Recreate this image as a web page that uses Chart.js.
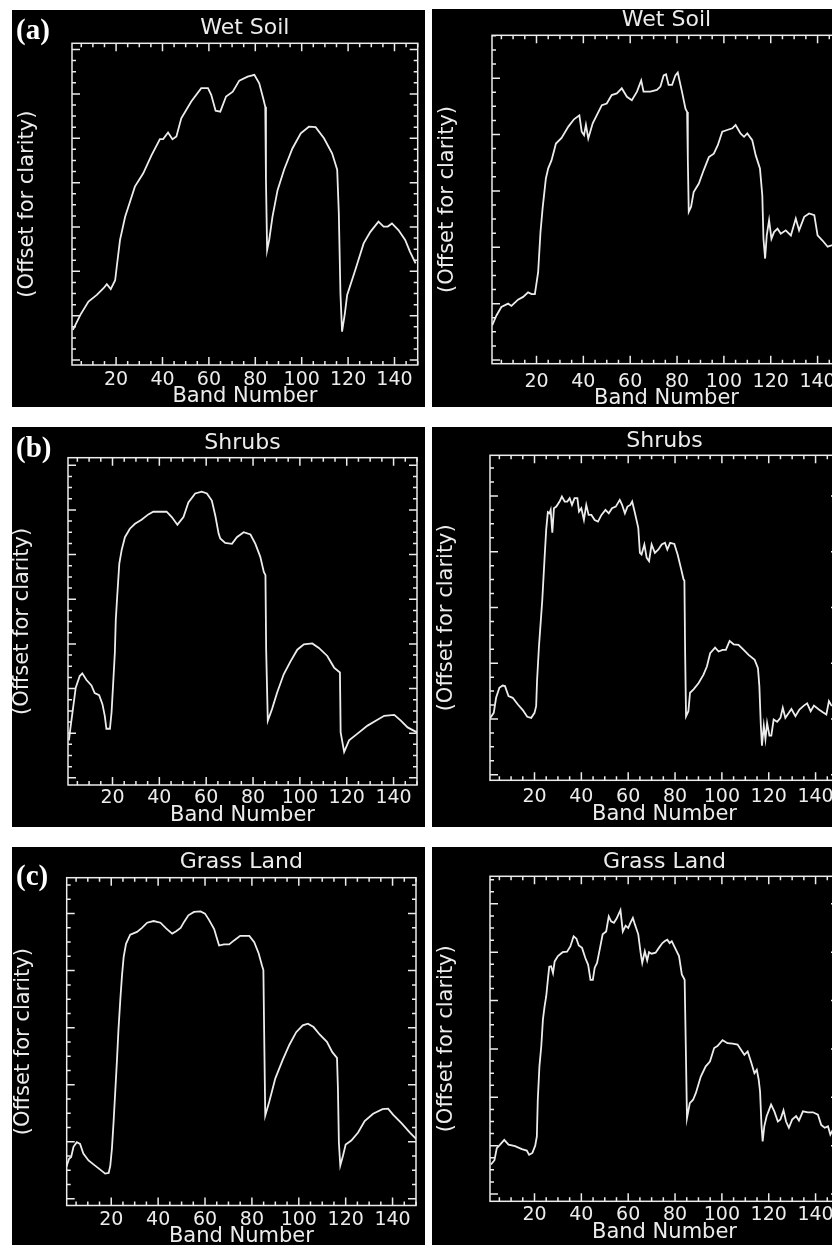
<!DOCTYPE html>
<html>
<head>
<meta charset="utf-8">
<title>Band profiles</title>
<script src="https://cdn.jsdelivr.net/npm/chart.js@4.4.1/dist/chart.umd.min.js"></script>
<style>
  html, body { margin: 0; padding: 0; background: #fff; overflow: hidden; }
  body { width: 832px; height: 1245px; position: relative; }
  canvas { position: absolute; background: #000; }
  .tag { position: absolute; left: 16px; z-index: 2; color: #fff; line-height: 1;
         font: bold 29px "Liberation Serif", "Times New Roman", serif; }
</style>
</head>
<body>
<div class="tag" style="top:13px">(a)</div>
<div class="tag" style="top:431px">(b)</div>
<div class="tag" style="top:859px">(c)</div>
<script>
const INK = '#ececec';
const FONT = '"DejaVu Sans", sans-serif';

// band axis
const BAND_MIN = 1;
const BAND_MAX = 150;
const BAND_LABELS = [20, 40, 60, 80, 100, 120, 140];
const BAND_MINOR_STEP = 5;
const BAND_MAJOR_STEP = 20;
// offset axis has no labels, only tick marks
const OFFSET_MINOR_STEP = 2.5;
const OFFSET_MAJOR_STEP = 10;

// Wet soil
const wetSoilLeftBand = [1.4, 4.6, 8.1, 11.7, 14.6, 16, 17.7, 19.6, 20.3, 21.7, 23.9, 26, 28.1, 31.7, 35.3, 38.9, 40.3, 42.4, 44.3, 46, 48.1, 52.4, 56.7, 59.6, 61, 62.9, 64.9, 67.4, 70.3, 73.1, 76.7, 79.6, 81.7, 83.4, 84.3, 84.6, 85.1, 86, 87.4, 89.6, 92.4, 96, 99.6, 103.1, 106, 109.6, 113.1, 115.3, 116, 116.7, 117.4, 118.6, 119.6, 123.1, 126.7, 129.6, 133.1, 135.3, 137.1, 138.9, 141.7, 144.6, 146.7, 149.1];
const wetSoilLeftValue = [6.8, 10.2, 13.2, 14.7, 16.2, 17.1, 16, 18, 21.1, 27.1, 32.3, 35.7, 39.1, 42.1, 46.2, 49.8, 49.8, 51.3, 49.8, 50.4, 54.5, 58.3, 61.3, 61.3, 59.8, 56.2, 56, 59.4, 60.5, 63, 63.9, 64.3, 62.4, 59, 57.1, 40.6, 24.8, 27.1, 32.3, 38.3, 42.9, 47.7, 51.1, 52.6, 52.5, 50, 46.6, 42.9, 33.1, 15, 6.4, 10.5, 14.7, 20.3, 26.3, 28.9, 31.2, 30.1, 30.1, 30.8, 29.3, 27.1, 24.4, 21.8];

const wetSoilRightBand = [1.1, 2.9, 5, 7.9, 9.3, 12.1, 14.3, 16.4, 17.9, 19.3, 20.7, 21.7, 22.6, 24, 25, 26.4, 28.3, 30.7, 33.6, 36, 38.3, 39.3, 40.3, 41.1, 42.1, 44, 45.7, 47.9, 50, 52.1, 54.3, 56.4, 58.6, 60.7, 62.9, 64.7, 65.7, 68.6, 71.4, 72.9, 74.3, 75.3, 76.4, 77.9, 79.3, 80.3, 82.1, 83.6, 84.3, 84.6, 85, 86, 87.1, 89.3, 91.4, 93.6, 95.7, 97.4, 99.3, 101.4, 103.6, 105, 107.1, 108.6, 110, 112.1, 113.6, 115.4, 116.4, 116.9, 117.6, 118.3, 119.3, 120.3, 121.4, 122.9, 124.3, 126.4, 128.6, 130.7, 132.1, 134.3, 136.4, 138.6, 140, 142.1, 144.3, 146.4, 148.5];
const wetSoilRightValue = [6.2, 7.9, 9.4, 10, 9.6, 10.7, 11.2, 12, 11.7, 11.7, 15.6, 22.7, 26.9, 32.2, 34, 35.4, 38.4, 39.4, 41.4, 42.7, 43.4, 40.5, 39.9, 41.7, 39.3, 42, 43.4, 45.2, 45.5, 47, 47.3, 48.2, 46.7, 46.1, 47.6, 49.6, 47.6, 47.6, 47.9, 48.5, 50.5, 50.7, 48.8, 48.8, 50.5, 51, 47.6, 44.6, 44, 35.7, 26.3, 27.2, 29.8, 31.3, 33.7, 36, 36.6, 38.1, 40.5, 40.8, 41.1, 41.7, 40.2, 39.6, 40.2, 39, 36.3, 34, 29.2, 21.5, 18, 22.1, 24.8, 21.5, 22.7, 23.3, 22.4, 23, 22.1, 25.1, 23, 25.4, 26, 25.7, 22.1, 21.2, 20.1, 20.4, 21];

// Shrubs
const shrubsLeftBand = [1.4, 2, 3.1, 4.3, 6, 7.1, 8.9, 11, 12.4, 14.3, 15.7, 16.7, 17.4, 18.9, 19.6, 20.3, 21, 21.4, 22, 22.9, 23.9, 25.3, 27.4, 29.6, 32.4, 35.3, 37.4, 43.1, 45.3, 47.7, 50.3, 52.4, 55.3, 58.1, 60.3, 62.4, 63.9, 65.3, 66, 68.1, 71, 73.1, 76, 78.9, 81, 83.1, 84.6, 85.3, 85.6, 86.3, 88.1, 90.3, 93.1, 96, 98.9, 101.7, 105.3, 108.1, 111.7, 114.6, 117.1, 117.4, 118.9, 121, 124.6, 128.9, 132.4, 136, 140.3, 143.1, 146, 150.3];
const shrubsLeftValue = [8.4, 11, 15.4, 20.2, 22.8, 23.4, 21.9, 20.7, 19, 18.5, 16.5, 13.9, 11, 11, 14.7, 21.3, 28, 35.4, 40.6, 48, 51, 53.9, 55.8, 56.9, 57.8, 59, 59.6, 59.6, 58.4, 56.7, 58.4, 61.7, 63.7, 64.1, 63.7, 62.1, 58.7, 54.7, 53.6, 52.6, 52.4, 53.9, 55, 54.5, 52.4, 49.5, 46.1, 45.4, 28.7, 12.8, 15.4, 19.1, 23.2, 26.1, 28.7, 29.9, 30.1, 29.1, 27.3, 24.7, 23.6, 10.2, 5.8, 8.4, 9.9, 11.7, 12.8, 13.9, 14.1, 12.8, 11.3, 10.1];

const shrubsRightBand = [1.1, 2.6, 3.6, 5, 6.4, 7.4, 8.9, 10.7, 12.9, 15, 16.9, 18.6, 20, 20.7, 21.1, 21.9, 22.6, 23.3, 24.3, 25, 25.7, 26.4, 26.9, 27.6, 28.3, 29.3, 30.7, 31.7, 32.9, 34, 35, 36, 37.1, 38.3, 39, 40, 41.1, 42.1, 43.1, 44.3, 45.7, 47.1, 48.6, 50.3, 51.7, 53.1, 54.7, 56.4, 57.4, 58.6, 59.7, 60.9, 61.7, 62.9, 64.3, 65, 65.7, 66.9, 67.9, 68.9, 70, 71.4, 72.9, 74.3, 75.7, 76.7, 77.9, 79.7, 81.1, 82.6, 83.6, 84, 84.3, 84.7, 85.7, 86.4, 87.9, 90, 92.1, 93.6, 95, 97.1, 98.6, 100.3, 101.7, 103.3, 105, 107.1, 109.3, 111.4, 114, 115.4, 116, 116.6, 117.1, 117.9, 118.6, 119.3, 120.3, 121.1, 122.1, 123.6, 125, 126, 127.1, 128.6, 129.7, 131.4, 133.1, 135, 136.4, 137.9, 139.3, 141.4, 143.1, 144.6, 145.7, 146.9];
const shrubsRightValue = [10.2, 11.1, 13.8, 15.6, 16, 15.9, 14.1, 13.8, 12.6, 11.6, 10.4, 10.2, 11.1, 12.3, 17, 23, 27.1, 31.2, 38.9, 44, 47.1, 46.9, 47.5, 43.4, 47.8, 48.1, 49, 49.9, 49, 49, 49.6, 48.4, 49.6, 49.6, 47.2, 47.8, 45.7, 48.4, 46.6, 46.6, 45.7, 45.4, 46.6, 47.5, 46.9, 47.8, 48.1, 49.3, 48.4, 46.9, 48.1, 48.4, 49, 46.9, 44.3, 39.8, 39.5, 41.3, 38.9, 38.3, 41.3, 39.8, 40.4, 41.3, 41.6, 40.4, 41.6, 41.4, 39.5, 36.9, 35.1, 34.8, 22.1, 10.5, 11.4, 14.7, 15.3, 16.4, 17.9, 19.4, 21.8, 22.8, 22.1, 22.4, 22.4, 24, 23.4, 23.3, 22.4, 21.5, 20.6, 19.1, 15.9, 9.1, 5.2, 8.8, 6.4, 9.3, 7, 7, 9.9, 9.5, 10.2, 12, 10.2, 11.1, 11.8, 10.5, 11.7, 12.4, 12.8, 11.4, 12.4, 11.7, 11.2, 10.8, 13.2, 12.3];

// Grass land
const grassLeftBand = [0.9, 2, 2.9, 3.9, 5.3, 6.7, 8.1, 10.3, 13.1, 15.3, 17.4, 18.9, 19.6, 20.3, 21, 21.7, 22.4, 23.1, 23.9, 24.6, 25.3, 26.3, 28.1, 31, 33.1, 35.3, 38.1, 41, 43.4, 46, 47.7, 49.6, 51, 52.9, 55.3, 58.1, 60, 61.7, 63.9, 64.9, 66, 68.1, 70.3, 72.4, 75, 78.9, 81, 82.9, 84.3, 84.9, 85.3, 85.7, 87.4, 90, 93.1, 96, 98.9, 101.7, 103.9, 106.3, 108.9, 112, 114.3, 116.3, 116.7, 117.1, 117.7, 118.9, 120, 122.4, 125.3, 128.1, 131.7, 135.7, 138.1, 140.3, 143.9, 147.4, 150.3];
const grassLeftValue = [5.6, 7, 7.3, 9.1, 9.9, 9.6, 7.9, 6.7, 5.8, 5.1, 4.4, 4.5, 5.8, 8.8, 13.5, 18.7, 24, 29.8, 35.1, 39.2, 42.4, 44.7, 46.3, 46.8, 47.5, 48.4, 48.7, 48.4, 47.4, 46.5, 46.9, 47.5, 48.5, 49.7, 50.3, 50.4, 50, 48.9, 47.3, 45.9, 44.4, 44.6, 44.6, 45.3, 46.1, 46.1, 45, 43, 40.9, 40.1, 26.9, 14.6, 17, 21.1, 24.3, 27, 29.2, 30.4, 30.7, 30.1, 28.8, 27.5, 25.7, 24.7, 19.3, 9.9, 5.8, 7.6, 9.5, 10.2, 11.6, 13.6, 14.9, 15.7, 15.8, 14.7, 13.2, 11.6, 10.4];

const grassRightBand = [1.4, 2.9, 3.9, 5.3, 7.1, 8.9, 11.7, 14.6, 16.7, 17.7, 19.1, 20.3, 21, 21.4, 22.1, 22.9, 23.6, 24.3, 25, 25.7, 26.3, 27.1, 27.9, 28.6, 30, 32, 33.9, 35.3, 36.7, 37.9, 38.9, 40.3, 41.7, 42.9, 43.9, 44.9, 45.7, 46.7, 48.1, 49.1, 50.6, 51.7, 52.7, 53.9, 55, 56.7, 57.7, 58.9, 60, 61, 62, 62.9, 64.3, 65.3, 66, 67.1, 68.1, 68.9, 70, 71.7, 73.1, 74.6, 75.7, 76.7, 77.7, 78.6, 80.3, 81.7, 82.9, 84.1, 84.6, 85.1, 86.3, 87.7, 88.9, 91, 93.1, 94.9, 96.7, 98.1, 100.3, 102.4, 104.6, 106.7, 108.1, 109.6, 111, 112.4, 113.9, 114.9, 115.7, 116.3, 116.9, 117.4, 118.1, 119.1, 121, 122.4, 123.9, 125, 126.3, 127.4, 128.6, 130, 131.7, 132.9, 134.6, 136.7, 138.9, 141, 142.4, 143.9, 145.3, 146.3, 147.4];
const grassRightValue = [6.1, 7, 9.5, 10.2, 11.2, 10.2, 9.9, 9.3, 9, 8.1, 8.5, 10, 11.9, 19.5, 26.4, 30.6, 36.1, 38.8, 40.9, 44.3, 47, 47.1, 45.7, 48.1, 49.2, 50, 50.1, 51.2, 53.3, 52.8, 51.4, 50.9, 48.8, 47.4, 44.3, 44.3, 46.8, 47.8, 51.2, 53.7, 54.3, 57.4, 56.4, 56.1, 56.9, 58.7, 54.3, 55.5, 55, 56.1, 57.1, 55.7, 53.7, 49.9, 47.8, 50.2, 48.3, 50, 49.7, 49.9, 50.9, 51.9, 52.3, 52.6, 51.9, 52.3, 50.6, 49.2, 45.4, 44.3, 30.2, 15.7, 18.8, 19.5, 20.9, 24.3, 26.4, 27.4, 30.2, 30.6, 31.8, 31.2, 31.1, 30.9, 29.9, 28.8, 29.5, 27.4, 25, 25.7, 23.7, 21.2, 14.3, 10.9, 14, 16.1, 18.5, 17.1, 15, 15.4, 17.3, 15, 13.7, 15.4, 16.1, 15.2, 17.1, 16.9, 16.9, 16.4, 14.3, 13.7, 14, 12.3, 13.3];

// canvas: [left, top, width, height]; box: plot frame [left, top, right, bottom] in page px
const panels = [
  { title: 'Wet Soil', bands: wetSoilLeftBand, values: wetSoilLeftValue, yMin: -1.1, yMax: 71.4,
    canvas: [12, 10, 413, 397], box: [72, 43.3, 417.7, 365], titleY: 28, tickY: 380.5, bandTitleY: 397, offsetTitleX: 28 },
  { title: 'Wet Soil', bands: wetSoilRightBand, values: wetSoilRightValue, yMin: -0.65, yMax: 57.6,
    canvas: [432, 9, 413, 398], box: [492, 35.3, 841, 363.7], titleY: 20.3, tickY: 381.7, bandTitleY: 398.5, offsetTitleX: 448 },
  { title: 'Shrubs', bands: shrubsLeftBand, values: shrubsLeftValue, yMin: -1.6, yMax: 71.7,
    canvas: [12, 427, 413, 400], box: [68, 457.7, 417, 785], titleY: 443, tickY: 798.5, bandTitleY: 816, offsetTitleX: 23 },
  { title: 'Shrubs', bands: shrubsRightBand, values: shrubsRightValue, yMin: -1, yMax: 57.3,
    canvas: [432, 427, 413, 400], box: [490, 455.3, 839, 780.3], titleY: 441, tickY: 797, bandTitleY: 815, offsetTitleX: 447 },
  { title: 'Grass Land', bands: grassLeftBand, values: grassLeftValue, yMin: -1.2, yMax: 56.3,
    canvas: [12, 847, 413, 410], box: [66.7, 877.7, 416, 1205.5], titleY: 862, tickY: 1220, bandTitleY: 1237, offsetTitleX: 24 },
  { title: 'Grass Land', bands: grassRightBand, values: grassRightValue, yMin: -1.5, yMax: 65.7,
    canvas: [432, 847, 413, 410], box: [490, 876.3, 839, 1201.3], titleY: 862, tickY: 1215, bandTitleY: 1233, offsetTitleX: 447 },
];

const TITLE_SIZE = 22;
const TICK_SIZE = 19;
const BAND_TITLE_SIZE = 21;
const OFFSET_TITLE_SIZE = 21;
const MAJOR_LEN = 8;
const MINOR_LEN = 4;

// frame with inward-pointing ticks on all four sides
const frameTicks = {
    id: 'frameTicks',
    afterDatasetsDraw(chart) {
        const { ctx, chartArea: a, scales: { x, y } } = chart;
        ctx.save();
        ctx.strokeStyle = INK;
        ctx.lineWidth = 1.5;
        ctx.beginPath();
        for (let v = Math.ceil(x.min / BAND_MINOR_STEP) * BAND_MINOR_STEP; v <= x.max; v += BAND_MINOR_STEP) {
            const px = x.getPixelForValue(v);
            const len = v % BAND_MAJOR_STEP === 0 ? MAJOR_LEN : MINOR_LEN;
            ctx.moveTo(px, a.bottom); ctx.lineTo(px, a.bottom - len);
            ctx.moveTo(px, a.top); ctx.lineTo(px, a.top + len);
        }
        for (let v = Math.ceil(y.min / OFFSET_MINOR_STEP) * OFFSET_MINOR_STEP; v <= y.max; v += OFFSET_MINOR_STEP) {
            const py = y.getPixelForValue(v);
            const len = Math.abs(v % OFFSET_MAJOR_STEP) < 1e-6 ? MAJOR_LEN : MINOR_LEN;
            ctx.moveTo(a.left, py); ctx.lineTo(a.left + len, py);
            ctx.moveTo(a.right, py); ctx.lineTo(a.right - len, py);
        }
        ctx.stroke();
        ctx.strokeRect(a.left, a.top, a.right - a.left, a.bottom - a.top);
        ctx.restore();
    }
};

panels.forEach((p) => {
    const [cx, cy, cw, ch] = p.canvas;
    const [bl, bt, br, bb] = p.box;

    const canvas = document.createElement('canvas');
    canvas.width = cw;
    canvas.height = ch;
    canvas.style.left = cx + 'px';
    canvas.style.top = cy + 'px';
    document.body.appendChild(canvas);

    const titleTop = p.titleY - cy - TITLE_SIZE / 2;

    new Chart(canvas, {
        type: 'line',
        data: {
            datasets: [{
                data: p.bands.map((b, i) => ({ x: b, y: p.values[i] })),
                borderColor: INK,
                borderWidth: 1.8,
                pointRadius: 0,
                tension: 0,
            }]
        },
        options: {
            responsive: false,
            animation: false,
            events: [],
            layout: { padding: { left: 0, top: 0, right: cw - (br - cx), bottom: 0 } },
            plugins: {
                legend: { display: false },
                tooltip: { enabled: false },
                title: {
                    display: true,
                    text: p.title,
                    color: INK,
                    fullSize: false,
                    font: { family: FONT, size: TITLE_SIZE, weight: 'normal', lineHeight: 1 },
                    padding: { top: titleTop, bottom: (bt - cy) - titleTop - TITLE_SIZE },
                },
            },
            scales: {
                x: {
                    type: 'linear',
                    min: BAND_MIN,
                    max: BAND_MAX,
                    afterBuildTicks: (axis) => { axis.ticks = BAND_LABELS.map(v => ({ value: v })); },
                    afterFit: (axis) => { axis.height = cy + ch - bb; },
                    grid: { display: false, drawTicks: false },
                    border: { display: false },
                    ticks: {
                        color: INK,
                        autoSkip: false,
                        maxRotation: 0,
                        padding: p.tickY - bb - TICK_SIZE / 2,
                        font: { family: FONT, size: TICK_SIZE, lineHeight: 1 },
                    },
                    title: {
                        display: true,
                        text: 'Band Number',
                        color: INK,
                        font: { family: FONT, size: BAND_TITLE_SIZE, lineHeight: 1 },
                        padding: { top: 0, bottom: cy + ch - p.bandTitleY - BAND_TITLE_SIZE / 2 },
                    },
                },
                y: {
                    min: p.yMin,
                    max: p.yMax,
                    afterFit: (axis) => { axis.width = bl - cx; },
                    grid: { display: false, drawTicks: false },
                    border: { display: false },
                    ticks: { display: false },
                    title: {
                        display: true,
                        text: '(Offset for clarity)',
                        color: INK,
                        font: { family: FONT, size: OFFSET_TITLE_SIZE, lineHeight: 1 },
                        padding: { top: p.offsetTitleX - cx - OFFSET_TITLE_SIZE / 2, bottom: 0 },
                    },
                },
            },
        },
        plugins: [frameTicks],
    });
});
</script>
</body>
</html>
